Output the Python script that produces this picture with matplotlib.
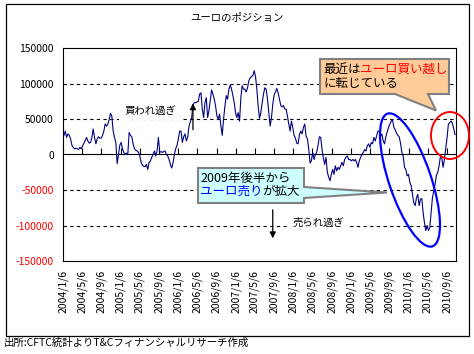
import matplotlib
matplotlib.use('Agg')
import matplotlib.pyplot as plt
from matplotlib.patches import Ellipse, Polygon, Rectangle
import pandas as pd

plt.rcParams['font.family'] = ['Noto Sans CJK JP', 'DejaVu Sans']

title = 'ユーロのポジション'
source = '出所:CFTC統計よりT&Cフィナンシャルリサーチ作成'

# euro net position (thousand contracts) at even steps
position_k = [
    27, 33, 24, 29, 27, 22, 13, 10, 8, 9, 8, 7, 10, 8, 12, 16, 20, 24, 19, 16,
    17, 24, 36, 24, 15, 22, 25, 23, 23, 27, 33, 43, 40, 43, 49, 58, 54, 33, 24, 17,
    -13, 0, 13, 17, 8, 3, 0, 2, 0, 31, 27, 25, 15, 8, 6, 5, 3,
    -2, -11, -15, -17, -17, -14, -21, -11, -9, -4, 0, 5, -2, 5, 24, 3, 4, 3, 4, 5,
    0, -2, -7, -14, -19, -12, 0, 8, 13, 22, 33, 33, 17, 25, 29, 19, 24, 40, 46, 52,
    70, 73, 73, 74, 75, 85, 87, 64, 52, 73, 80, 52, 62, 76, 91, 85, 78, 68, 54, 50,
    57, 40, 27, 50, 68, 83, 78, 92, 98, 92, 83, 73, 59, 52, 59, 47, 80, 97, 92, 92,
    88, 94, 104, 108, 110, 111, 118, 110, 92, 68, 51, 59, 73, 85, 94, 92, 78, 59, 40, 52,
    71, 84, 88, 93, 87, 78, 69, 67, 69, 64, 64, 54, 43, 33, 47, 38, 27, 23, 16, 15,
    28, 33, 29, 38, 43, 26, 22, 8, -12, -9, 3, -7, 0, 3, 13, 25, 24, 7, -5, -14,
    -4, -25, -32, -37, -28, -21, -28, -16, -23, -18, -21, -16, -11, -16, -7, -4, -2, -7, -7, -9,
    -7, -9, -7, -11, -18, -9, -4, 0, 3, 7, 5, 12, 15, 10, 17, 15, 24, 19, 26, 33,
    33, 26, 29, 19, 15, 25, 32, 38, 43, 47, 49, 38, 35, 30, 27, 25, 16, 3, -2, -18,
    -21, -30, -28, -39, -44, -56, -68, -72, -61, -56, -72, -63, -62, -82, -96, -107, -100, -107, -103, -82,
    -61, -51, -42, -29, -25, -16, -3, -4, -18, -7, 8, 24, 43, 45, 47, 44, 36, 28,
]
first_date = '2004-01-12'
last_date = '2010-10-27'

y_ticks = [150000, 100000, 50000, 0, -50000, -100000, -150000]
y_labels = ['150000', '100000', '50000', '0', '-50000', '-100000', '-150000']
grid_levels = [100000, 50000, -50000, -100000]

x_tick_labels = [
    '2004/1/6', '2004/5/6', '2004/9/6', '2005/1/6', '2005/5/6', '2005/9/6',
    '2006/1/6', '2006/5/6', '2006/9/6', '2007/1/6', '2007/5/6', '2007/9/6',
    '2008/1/6', '2008/5/6', '2008/9/6', '2009/1/6', '2009/5/6', '2009/9/6',
    '2010/1/6', '2010/5/6', '2010/9/6',
]

dates = pd.date_range(first_date, last_date, periods=len(position_k))
values = [v * 1000 for v in position_k]
tick_dates = pd.to_datetime(x_tick_labels, format='%Y/%m/%d')

W, H = 474, 354
fig = plt.figure(figsize=(W / 100, H / 100), dpi=100)
ax = fig.add_axes([63 / W, 1 - 261 / H, 393 / W, 213 / H])

for lvl in grid_levels:
    ax.axhline(lvl, color='black', lw=0.8, ls=(0, (3, 3)), zorder=1)

ax.plot(dates, values, color='#000080', lw=0.8, zorder=3)

ax.set_xlim(pd.Timestamp('2004-01-06'), pd.Timestamp('2010-11-02'))
ax.set_ylim(-150000, 150000)
ax.set_yticks(y_ticks)
ax.set_yticklabels(y_labels)
for lbl, v in zip(ax.get_yticklabels(), y_ticks):
    lbl.set_color('red' if v < 0 else 'black')
ax.set_xticks(tick_dates)
ax.set_xticklabels(x_tick_labels, rotation=90, va='top', ha='center')
ax.tick_params(axis='both', length=0, labelsize=7.5)
ax.tick_params(axis='y', pad=6.5)
ax.tick_params(axis='x', pad=6.5)
for sp in ax.spines.values():
    sp.set_color('black')
    sp.set_linewidth(0.8)

# zero line carrying the category ticks
zero = ax.secondary_xaxis(0.5)
zero.set_xticks(tick_dates)
zero.tick_params(direction='out', length=4, width=0.8, labeltop=False, labelbottom=False)
for sp in zero.spines.values():
    sp.set_linewidth(0.8)

# overbought / oversold labels and arrows
ax.text(pd.Timestamp('2005-07-11'), 62000, '買われ過ぎ', fontsize=7.5, ha='center', va='center',
        zorder=2, bbox=dict(boxstyle='square,pad=0.45', fc='white', ec='none'))
ax.text(pd.Timestamp('2008-06-10'), -95500, '売られ過ぎ', fontsize=7.5, ha='center', va='center',
        zorder=2, bbox=dict(boxstyle='square,pad=0.45', fc='white', ec='none'))
ax.annotate('', xy=(pd.Timestamp('2006-04-09'), 76000), xytext=(pd.Timestamp('2006-04-09'), 31000),
            arrowprops=dict(arrowstyle='-|>', color='black', lw=0.9, mutation_scale=9), zorder=4)
ax.annotate('', xy=(pd.Timestamp('2007-08-28'), -122000), xytext=(pd.Timestamp('2007-08-28'), -74000),
            arrowprops=dict(arrowstyle='-|>', color='black', lw=0.9, mutation_scale=9), zorder=4)

# overlay in pixel coordinates for frame, title and callouts
ov = fig.add_axes([0, 0, 1, 1])
ov.set_xlim(0, W)
ov.set_ylim(H, 0)
ov.axis('off')

ov.add_patch(Rectangle((6, 4), 463, 332, fill=False, ec='black', lw=0.9))
ov.text(237, 17.5, title, fontsize=7.5, ha='center', va='center')
ov.text(4, 343, source, fontsize=7.5, ha='left', va='center')

ov.add_patch(Ellipse((410, 180), 140, 42, angle=71.3, fill=False, ec='#0000FF', lw=1.6))
ov.add_patch(Ellipse((450, 135.5), 38, 47, fill=False, ec='#FF0000', lw=1.4))

cyan = [(198, 168), (304, 168), (304, 187), (387, 192.5), (304, 198), (304, 203), (198, 203)]
ov.add_patch(Polygon(cyan, closed=True, fc='#CCFFFF', ec='#808080', lw=1.5))
ov.text(200, 178.5, '2009年後半から', fontsize=9, ha='left', va='center')
t1 = ov.text(200, 191, 'ユーロ売り', fontsize=9, ha='left', va='center', color='#0000FF')
ov.annotate('が拡大', xy=(1, 0.5), xycoords=t1, fontsize=9, ha='left', va='center')

peach = [(320, 59), (449, 59), (449, 94), (428, 94), (436, 110.5), (395, 94), (320, 94)]
ov.add_patch(Polygon(peach, closed=True, fc='#FFCC99', ec='#808080', lw=1.5))
t2 = ov.text(323, 69, '最近は', fontsize=9, ha='left', va='center')
ov.annotate('ユーロ買い越し', xy=(1, 0.5), xycoords=t2, fontsize=9, ha='left', va='center',
            color='#FF0000')
ov.text(323, 84, 'に転じている', fontsize=9, ha='left', va='center')

fig.savefig('out.png', dpi=100)
